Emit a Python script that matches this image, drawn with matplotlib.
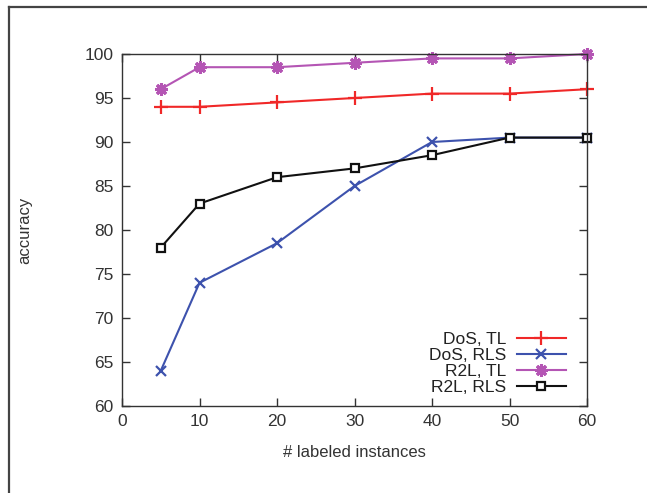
import matplotlib
matplotlib.use("Agg")
import matplotlib.pyplot as plt
from matplotlib.lines import Line2D

plt.rcParams['font.family'] = ['Liberation Sans', 'DejaVu Sans']

x = [5, 10, 20, 30, 40, 50, 60]
dos_tl = [94, 94, 94.5, 95, 95.5, 95.5, 96]
dos_rls = [64, 74, 78.5, 85, 90, 90.5, 90.5]
r2l_tl = [96, 98.5, 98.5, 99, 99.5, 99.5, 100]
r2l_rls = [78, 83, 86, 87, 88.5, 90.5, 90.5]
labels = ["DoS, TL", "DoS, RLS", "R2L, TL", "R2L, RLS"]
xticks = [0, 10, 20, 30, 40, 50, 60]
yticks = [60, 65, 70, 75, 80, 85, 90, 95, 100]

W, H = 647, 493
fig = plt.figure(figsize=(W / 100, H / 100), dpi=100)
ax = fig.add_axes([122 / W, 1 - 406 / H, (587 - 122) / W, (406 - 54) / H])

# outer frame (left and top visible)
fig.add_artist(Line2D([9 / W, 9 / W], [0, 1 - 7 / H], transform=fig.transFigure,
                      color='#444444', lw=1.6))
fig.add_artist(Line2D([9 / W, 1], [1 - 7 / H, 1 - 7 / H], transform=fig.transFigure,
                      color='#444444', lw=1.6))

ax.plot(x, dos_tl, color='#f02828', lw=1.5, marker='+', ms=10, mew=1.6, label=labels[0], clip_on=False)
ax.plot(x, dos_rls, color='#3d52ad', lw=1.5, marker='x', ms=7, mew=1.6, label=labels[1], clip_on=False)
ax.plot(x, r2l_tl, color='#b455b4', lw=1.5, marker=(8, 2, 0), ms=9, mew=2.2, label=labels[2], clip_on=False)
ax.plot(x, r2l_rls, color='#111111', lw=1.5, marker='s', ms=6, mew=1.6, mfc='white', mec='#111111',
        label=labels[3], clip_on=False)

ax.set_xlim(0, 60)
ax.set_ylim(60, 100)
ax.set_xticks(xticks)
ax.set_yticks(yticks)
ax.tick_params(direction='in', top=True, right=True, length=6, width=1, colors='#333333',
               labelsize=12.5, pad=6)
for s in ax.spines.values():
    s.set_color('#333333')
    s.set_linewidth(1)

ax.set_xlabel('# labeled instances', fontsize=12, color='#333333', labelpad=11)
ax.set_ylabel('accuracy', fontsize=12, color='#333333', labelpad=38)

leg = ax.legend(loc='lower right', bbox_to_anchor=(0.98, -0.003), frameon=False, markerfirst=False,
                fontsize=12.5, handlelength=2.8, handletextpad=0.6, labelspacing=0.05,
                borderpad=0.2)
for t in leg.get_texts():
    t.set_color('#222222')

fig.savefig('out.png', dpi=100)
